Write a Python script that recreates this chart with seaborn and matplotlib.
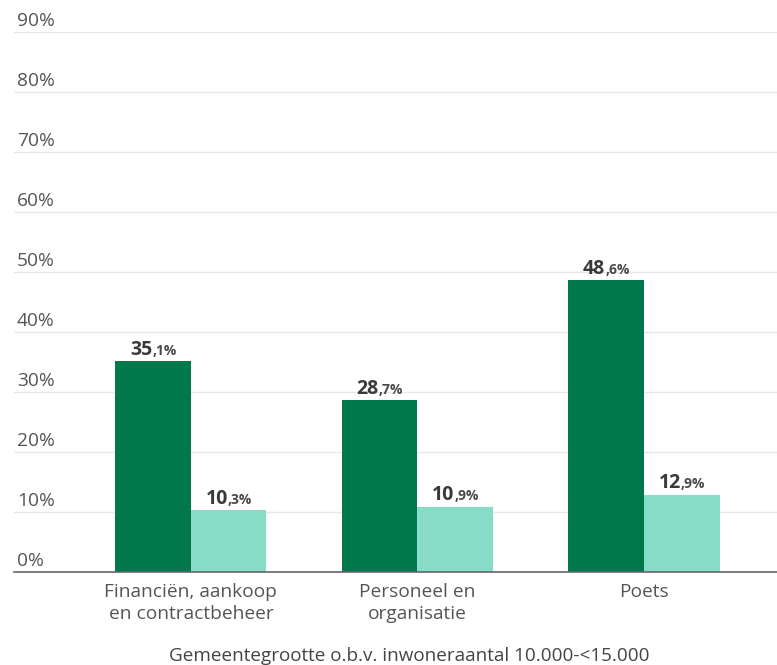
import matplotlib
matplotlib.use("Agg")
import matplotlib.pyplot as plt
import matplotlib.transforms as mtransforms
import seaborn as sns
import pandas as pd

categories = ["Financiën, aankoop\nen contractbeheer", "Personeel en\norganisatie", "Poets"]
series_names = ["Reeks A", "Reeks B"]
values_a = [35.1, 28.7, 48.6]
values_b = [10.3, 10.9, 12.9]
y_ticks = [0, 10, 20, 30, 40, 50, 60, 70, 80, 90]
x_title = "Gemeentegrootte o.b.v. inwoneraantal 10.000-<15.000"

colors = ["#00784B", "#86DCC6"]

rows = []
for c, a, b in zip(categories, values_a, values_b):
    rows.append({"cat": c, "serie": series_names[0], "val": a})
    rows.append({"cat": c, "serie": series_names[1], "val": b})
df = pd.DataFrame(rows)

sns.set_theme(style="white")
plt.rcParams["font.family"] = ["Open Sans", "DejaVu Sans"]

W, H = 777, 665
fig = plt.figure(figsize=(W / 100, H / 100), dpi=100)
ax = fig.add_axes([14 / W, (H - 572) / H, (W - 14) / W, (572 - 32) / H])

sns.barplot(data=df, x="cat", y="val", hue="serie", palette=colors, order=categories,
            hue_order=series_names, width=0.667, gap=0, ax=ax, legend=False,
            saturation=1, edgecolor="none", linewidth=0)

ax.set_ylim(0, 90)
ax.set_xlim(-0.781, 2.587)
ax.set_yticks(y_ticks)
ax.set_yticklabels([])
ax.tick_params(axis="y", length=0)
ax.tick_params(axis="x", length=0, pad=8)
ax.grid(axis="y", color="#e8e8e8", linewidth=1)
ax.set_axisbelow(True)
for s in ["top", "right", "left"]:
    ax.spines[s].set_visible(False)
ax.spines["bottom"].set_color("#666666")
ax.spines["bottom"].set_linewidth(1.2)
ax.set_xlabel("")
ax.set_ylabel("")
for lbl in ax.get_xticklabels():
    lbl.set_fontsize(13.8)
    lbl.set_color("#555555")
    lbl.set_linespacing(1.25)

# y tick labels above gridlines
for t in y_ticks:
    ax.annotate(f"{t}%", xy=(0, t), xycoords=("axes fraction", "data"),
                xytext=(2, 4.5), textcoords="offset points", ha="left", va="baseline",
                fontsize=13.8, color="#555555")

fig.text(409 / W, (H - 656) / H, x_title, ha="center", va="center",
         fontsize=13.6, color="#444444")

# value labels
fig.canvas.draw()
renderer = fig.canvas.get_renderer()
bars = ax.patches
for bar in bars:
    h = bar.get_height()
    if h <= 0:
        continue
    xc = bar.get_x() + bar.get_width() / 2
    s = f"{h:.1f}".replace(".", ",")
    big, small = s.split(",")
    small = "," + small + "%"
    t1 = ax.text(xc, h, big, ha="left", va="baseline", fontsize=14, fontweight="bold",
                 color="#3a3a3a")
    t2 = ax.text(xc, h, small, ha="left", va="baseline", fontsize=10, fontweight="bold",
                 color="#4a4a4a")
    w1 = t1.get_window_extent(renderer).width
    w2 = t2.get_window_extent(renderer).width
    total = w1 + w2
    off1 = mtransforms.offset_copy(ax.transData, fig=fig, x=-total / 2 * 72 / fig.dpi,
                                   y=4.5, units="points")
    off2 = mtransforms.offset_copy(ax.transData, fig=fig, x=(-total / 2 + w1) * 72 / fig.dpi,
                                   y=4.5, units="points")
    t1.set_transform(off1)
    t2.set_transform(off2)

fig.savefig("out.png", dpi=100)
